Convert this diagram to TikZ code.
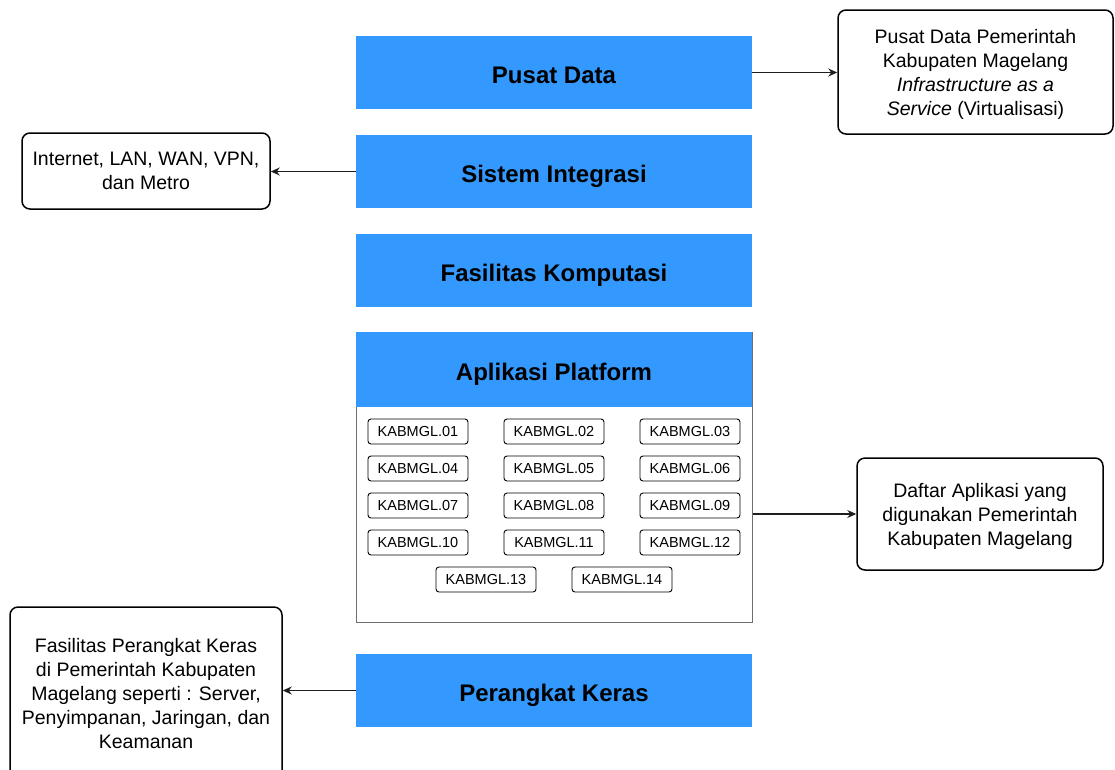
\documentclass[tikz,border=0pt]{standalone}
\usepackage{fontspec}
\setmainfont{Liberation Sans}
\usetikzlibrary{arrows.meta}
\definecolor{layerblue}{RGB}{51,153,255}
\definecolor{framegray}{RGB}{110,110,110}
\definecolor{linegray}{RGB}{30,30,30}
\begin{document}
\begin{tikzpicture}[x=1pt,y=-1pt,
  layer/.style={fill=layerblue, draw=none, minimum width=396pt, inner sep=0pt,
    text height=21pt, text depth=0pt,
    font=\fontsize{24}{29}\selectfont\bfseries},
  appbox/.style={draw=black, line width=0.9pt, rounded corners=3pt, fill=white,
    minimum width=100pt, minimum height=25pt, inner sep=0pt,
    font=\fontsize{14.5}{17}\selectfont},
  infobox/.style={draw=black, line width=1.5pt, rounded corners=8pt, fill=white,
    inner sep=0pt, align=center, text depth=0pt, font=\fontsize{19.5}{24}\selectfont},
  conn/.style={draw=linegray, line width=1.2pt, -{Stealth[length=9pt,width=8pt]}}
]
\useasboundingbox (0,0) rectangle (1115,769);

% Layers
\node[layer, minimum height=73pt] (pd) at (554,72.5) {Pusat Data};
\node[layer, minimum height=73pt] (si) at (554,171.5) {Sistem Integrasi};
\node[layer, minimum height=73pt] (fk) at (554,270.5) {Fasilitas Komputasi};
\node[draw=framegray, line width=1pt, fill=white, minimum width=396pt, minimum height=290pt, inner sep=0pt] (app) at (554,477) {};
\node[layer, minimum height=75pt] (ap) at (554,369.5) {Aplikasi Platform};
\node[layer, minimum height=73pt] (pk) at (554,690.5) {Perangkat Keras};

% Applications
\node[appbox] (a01) at (418,431.5) {KABMGL.01};
\node[appbox] (a02) at (554,431.5) {KABMGL.02};
\node[appbox] (a03) at (690,431.5) {KABMGL.03};
\node[appbox] (a04) at (418,468.5) {KABMGL.04};
\node[appbox] (a05) at (554,468.5) {KABMGL.05};
\node[appbox] (a06) at (690,468.5) {KABMGL.06};
\node[appbox] (a07) at (418,505.5) {KABMGL.07};
\node[appbox] (a08) at (554,505.5) {KABMGL.08};
\node[appbox] (a09) at (690,505.5) {KABMGL.09};
\node[appbox] (a10) at (418,542.5) {KABMGL.10};
\node[appbox] (a11) at (554,542.5) {KABMGL.11};
\node[appbox] (a12) at (690,542.5) {KABMGL.12};
\node[appbox] (a13) at (486,579.5) {KABMGL.13};
\node[appbox] (a14) at (622,579.5) {KABMGL.14};

% Info boxes
\node[infobox, minimum width=275pt, minimum height=124pt] (pdr) at (975.5,72)
  {Pusat Data Pemerintah\\Kabupaten Magelang\\\textit{Infrastructure as a}\\\textit{Service} (Virtualisasi)};
\node[infobox, minimum width=248pt, minimum height=76pt] (sil) at (146,171)
  {Internet, LAN, WAN, VPN,\\dan Metro};
\node[infobox, minimum width=246pt, minimum height=112pt] (apr) at (980,514)
  {Daftar Aplikasi yang\\digunakan Pemerintah\\Kabupaten Magelang};
\node[infobox, minimum width=272pt, minimum height=173pt] (pkl) at (146,693.5)
  {Fasilitas Perangkat Keras\\di Pemerintah Kabupaten\\Magelang seperti : Server,\\Penyimpanan, Jaringan, dan\\Keamanan};

% Connectors
\draw[conn] (pd.east) -- (pd.east -| pdr.west);
\draw[conn] (si.west) -- (si.west -| sil.east);
\draw[conn] (app.east |- apr.west) -- (apr.west);
\draw[conn] (pk.west) -- (pk.west -| pkl.east);
\end{tikzpicture}
\end{document}
